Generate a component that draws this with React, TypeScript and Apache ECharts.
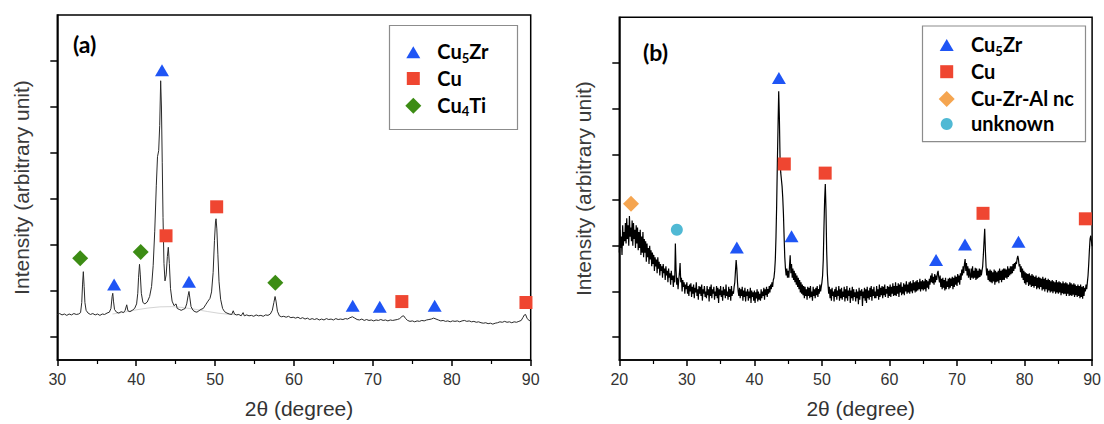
import React, { useEffect, useRef } from "react";
import * as echarts from "echarts";

// ---------- data: panel (a) ----------
const yTickValues = [0, 1, 2, 3, 4, 5, 6];

const aCurve: [number, number][] = [
  [30.0, 0.49], [30.3, 0.51], [30.6, 0.48], [30.9, 0.5], [31.2, 0.47], [31.5, 0.5], [31.8, 0.48], [32.1, 0.51],
  [32.4, 0.49], [32.7, 0.5], [32.95, 0.53], [33.1, 0.75], [33.2, 1.15], [33.3, 1.42], [33.4, 1.1], [33.5, 0.75],
  [33.65, 0.58], [33.9, 0.52], [34.2, 0.49], [34.5, 0.51], [34.8, 0.48], [35.1, 0.5], [35.4, 0.47], [35.7, 0.5],
  [36.0, 0.49], [36.3, 0.52], [36.6, 0.54], [36.8, 0.62], [36.95, 0.88], [37.03, 0.95], [37.12, 0.78], [37.25, 0.6],
  [37.5, 0.54], [37.8, 0.52], [38.1, 0.55], [38.4, 0.53], [38.6, 0.58], [38.8, 0.7], [38.95, 0.57], [39.2, 0.55],
  [39.5, 0.58], [39.8, 0.62], [40.05, 0.72], [40.2, 0.95], [40.3, 1.3], [40.42, 1.58], [40.52, 1.35], [40.65, 0.95],
  [40.85, 0.75], [41.1, 0.72], [41.4, 0.76], [41.7, 0.88], [41.95, 1.1], [42.15, 1.55], [42.35, 2.3], [42.55, 3.3],
  [42.7, 3.92], [42.85, 4.05], [42.98, 4.6], [43.1, 5.57], [43.2, 5.0], [43.3, 3.8], [43.4, 2.6], [43.52, 1.6],
  [43.65, 1.22], [43.8, 1.35], [43.95, 1.75], [44.07, 1.95], [44.2, 1.6], [44.35, 1.05], [44.55, 0.78], [44.8, 0.68],
  [45.05, 0.72], [45.2, 0.62], [45.45, 0.6], [45.7, 0.58], [45.95, 0.6], [46.2, 0.62], [46.4, 0.72], [46.58, 0.9],
  [46.69, 0.99], [46.8, 0.85], [46.95, 0.66], [47.2, 0.58], [47.45, 0.55], [47.7, 0.54], [47.95, 0.57], [48.2, 0.6],
  [48.5, 0.62], [48.8, 0.7], [49.1, 0.78], [49.35, 0.84], [49.55, 0.98], [49.75, 1.4], [49.92, 2.1], [50.05, 2.5],
  [50.12, 2.57], [50.22, 2.35], [50.35, 1.8], [50.5, 1.2], [50.7, 0.82], [50.95, 0.62], [51.2, 0.55], [51.5, 0.52],
  [51.8, 0.5], [52.1, 0.49], [52.3, 0.57], [52.45, 0.5], [52.7, 0.48], [53.0, 0.49], [53.3, 0.46], [53.55, 0.53],
  [53.7, 0.46], [54.0, 0.48], [54.3, 0.46], [54.6, 0.47], [54.9, 0.45], [55.2, 0.48], [55.5, 0.46], [55.8, 0.47],
  [56.1, 0.45], [56.4, 0.48], [56.7, 0.47], [57.0, 0.5], [57.25, 0.58], [57.45, 0.75], [57.6, 0.88], [57.72, 0.78],
  [57.9, 0.56], [58.15, 0.46], [58.4, 0.44], [58.7, 0.45], [59.0, 0.43], [59.3, 0.45], [59.6, 0.42], [59.9, 0.43],
  [60.2, 0.41], [60.5, 0.43], [60.8, 0.4], [61.1, 0.42], [61.4, 0.39], [61.7, 0.41], [62.0, 0.38], [62.3, 0.4],
  [62.6, 0.38], [62.9, 0.4], [63.2, 0.37], [63.5, 0.39], [63.8, 0.37], [64.1, 0.4], [64.4, 0.38], [64.7, 0.39],
  [65.0, 0.37], [65.3, 0.4], [65.6, 0.38], [65.9, 0.39], [66.2, 0.38], [66.5, 0.4], [66.8, 0.39], [67.1, 0.42],
  [67.4, 0.44], [67.7, 0.41], [68.0, 0.38], [68.3, 0.37], [68.6, 0.39], [68.9, 0.36], [69.2, 0.38], [69.5, 0.36],
  [69.8, 0.37], [70.1, 0.35], [70.4, 0.37], [70.7, 0.36], [71.0, 0.38], [71.3, 0.36], [71.6, 0.37], [71.9, 0.35],
  [72.2, 0.37], [72.5, 0.36], [72.8, 0.37], [73.1, 0.38], [73.4, 0.4], [73.7, 0.45], [73.9, 0.46], [74.15, 0.4],
  [74.4, 0.36], [74.7, 0.34], [75.0, 0.35], [75.3, 0.33], [75.6, 0.35], [75.9, 0.34], [76.2, 0.36], [76.5, 0.35],
  [76.8, 0.37], [77.1, 0.38], [77.4, 0.39], [77.7, 0.41], [78.0, 0.39], [78.3, 0.37], [78.6, 0.35], [78.9, 0.36],
  [79.2, 0.34], [79.5, 0.35], [79.8, 0.33], [80.1, 0.35], [80.4, 0.34], [80.7, 0.35], [81.0, 0.33], [81.3, 0.35],
  [81.6, 0.36], [81.9, 0.34], [82.2, 0.35], [82.5, 0.33], [82.8, 0.34], [83.1, 0.32], [83.4, 0.33], [83.7, 0.31],
  [84.0, 0.3], [84.3, 0.31], [84.6, 0.29], [84.9, 0.3], [85.2, 0.28], [85.5, 0.3], [85.8, 0.31], [86.1, 0.33],
  [86.4, 0.32], [86.7, 0.34], [87.0, 0.32], [87.3, 0.33], [87.6, 0.31], [87.9, 0.33], [88.2, 0.32], [88.5, 0.34],
  [88.8, 0.36], [89.0, 0.42], [89.2, 0.48], [89.35, 0.49], [89.55, 0.4], [89.8, 0.36], [90.0, 0.35],
];

const aBackground: [number, number][] = [
  [37, 0.5], [38.5, 0.54], [40, 0.59], [41.5, 0.63], [43, 0.655], [44.5, 0.66], [46, 0.64],
  [47.5, 0.6], [49, 0.555], [50.5, 0.515], [52, 0.49], [53, 0.48],
];

const aCu5Zr: [number, number][] = [[43.27, 5.8], [37.2, 1.14], [46.69, 1.2], [67.44, 0.68], [70.87, 0.66], [77.83, 0.68]];
const aCu: [number, number][] = [[43.78, 2.2], [50.2, 2.83], [73.67, 0.77], [89.4, 0.75]];
const aCu4Ti: [number, number][] = [[32.9, 1.71], [40.57, 1.85], [57.63, 1.18]];

// ---------- data: panel (b) ----------
// intensity read on the scan grid: 2θ from 20.0 to 90.0 in steps of 0.1 (one row = 1°)
const bStart = 20;
const bStep = 0.1;
const bIntensity: number[] = [
  1.85, 2.35, 1.95, 2.2, 1.8, 2.45, 2.0, 2.3, 2.1, 2.5, // 20
  2.05, 2.6, 2.15, 2.45, 2.0, 2.65, 2.2, 2.4, 2.1, 2.55, // 21
  2.0, 2.5, 2.15, 2.35, 1.95, 2.45, 2.05, 2.4, 1.9, 2.3, // 22
  1.95, 2.35, 1.8, 2.2, 1.85, 2.3, 1.75, 2.15, 1.85, 2.1, // 23
  1.65, 2.05, 1.75, 1.95, 1.6, 2.0, 1.7, 1.9, 1.55, 1.85, // 24
  1.6, 1.8, 1.45, 1.75, 1.55, 1.7, 1.4, 1.75, 1.5, 1.65, // 25
  1.35, 1.6, 1.45, 1.55, 1.3, 1.6, 1.4, 1.5, 1.25, 1.55, // 26
  1.35, 1.45, 1.2, 1.5, 1.3, 1.4, 1.15, 1.45, 1.25, 1.35, // 27
  1.1, 1.35, 1.2, 2.05, 1.5, 1.15, 1.3, 1.05, 1.25, 1.4, // 28
  1.62, 1.2, 1.3, 1.0, 1.25, 1.1, 1.2, 0.95, 1.15, 1.05, // 29
  1.2, 0.95, 1.12, 0.9, 1.15, 1.0, 1.18, 0.88, 1.1, 0.95, // 30
  1.15, 0.85, 1.08, 0.98, 1.2, 0.9, 1.05, 0.82, 1.12, 0.95, // 31
  1.1, 0.9, 1.15, 0.8, 1.05, 0.95, 1.12, 0.88, 1.0, 0.85, // 32
  1.12, 0.92, 1.05, 0.78, 1.1, 0.9, 1.15, 0.85, 1.05, 0.95, // 33
  1.1, 0.82, 1.0, 0.9, 1.12, 0.85, 1.08, 0.75, 1.05, 0.92, // 34
  1.12, 0.88, 1.02, 0.8, 1.1, 0.92, 1.05, 0.85, 1.15, 0.9, // 35
  1.0, 0.82, 1.1, 0.88, 1.05, 0.8, 1.12, 0.9, 1.0, 0.95, // 36
  1.1, 1.2, 1.45, 1.69, 1.5, 1.2, 1.0, 0.9, 1.08, 0.85, // 37
  1.05, 0.9, 1.1, 0.8, 1.02, 0.88, 1.08, 0.78, 1.0, 0.9, // 38
  1.05, 0.8, 1.0, 0.85, 1.08, 0.75, 1.02, 0.88, 0.98, 0.8, // 39
  1.02, 0.75, 0.98, 0.85, 1.05, 0.78, 1.0, 0.82, 0.95, 0.8, // 40
  1.05, 0.85, 1.0, 0.9, 1.08, 0.82, 1.05, 0.92, 1.1, 0.88, // 41
  1.05, 0.95, 1.12, 0.98, 1.15, 1.05, 1.2, 1.1, 1.25, 1.3, // 42
  1.45, 1.7, 2.2, 2.9, 3.8, 4.6, 5.38, 4.8, 3.9, 3.6, // 43
  3.45, 3.3, 3.05, 2.7, 2.2, 1.75, 1.5, 1.35, 1.5, 1.3, // 44
  1.45, 1.3, 1.55, 1.79, 1.4, 1.6, 1.3, 1.5, 1.25, 1.45, // 45
  1.2, 1.4, 1.15, 1.35, 1.1, 1.3, 1.05, 1.25, 0.98, 1.2, // 46
  0.95, 1.15, 0.92, 1.12, 0.85, 1.1, 0.9, 1.05, 0.82, 1.1, // 47
  0.9, 1.08, 0.85, 1.12, 0.88, 1.0, 0.8, 1.1, 0.9, 1.05, // 48
  0.85, 1.08, 0.92, 1.12, 0.88, 1.05, 0.95, 1.15, 1.0, 1.1, // 49
  1.2, 1.35, 1.7, 2.4, 3.0, 3.35, 2.8, 1.9, 1.4, 1.15, // 50
  0.95, 1.1, 0.85, 1.05, 0.8, 1.08, 0.9, 1.0, 0.78, 1.05, // 51
  0.88, 1.1, 0.82, 1.02, 0.9, 1.12, 0.8, 1.05, 0.85, 1.08, // 52
  0.82, 1.0, 0.88, 1.1, 0.78, 1.05, 0.85, 1.12, 0.8, 1.02, // 53
  0.9, 1.08, 0.75, 1.02, 0.85, 1.1, 0.8, 1.05, 0.88, 0.98, // 54
  0.78, 1.05, 0.85, 1.0, 0.72, 1.08, 0.82, 1.02, 0.9, 1.05, // 55
  0.68, 1.0, 0.85, 1.08, 0.8, 1.05, 0.75, 1.1, 0.85, 1.02, // 56
  0.82, 1.08, 0.88, 1.12, 0.8, 1.05, 0.9, 1.1, 0.85, 1.0, // 57
  0.85, 1.12, 0.9, 1.05, 0.82, 1.15, 0.88, 1.08, 0.92, 1.12, // 58
  0.85, 1.1, 0.92, 1.15, 0.88, 1.05, 0.95, 1.12, 0.86, 1.1, // 59
  0.9, 1.15, 0.88, 1.1, 0.95, 1.18, 0.9, 1.12, 0.92, 1.2, // 60
  0.9, 1.12, 0.95, 1.18, 0.88, 1.15, 0.98, 1.2, 0.92, 1.1, // 61
  0.95, 1.18, 0.92, 1.15, 1.0, 1.22, 0.95, 1.15, 0.98, 1.2, // 62
  0.95, 1.22, 1.0, 1.18, 0.96, 1.25, 1.02, 1.2, 0.98, 1.22, // 63
  1.0, 1.25, 1.02, 1.2, 1.05, 1.28, 1.0, 1.22, 1.05, 1.25, // 64
  1.02, 1.22, 1.05, 1.28, 1.0, 1.25, 1.08, 1.22, 1.05, 1.28, // 65
  1.15, 1.35, 1.2, 1.4, 1.18, 1.32, 1.15, 1.38, 1.2, 1.35, // 66
  1.25, 1.4, 1.45, 1.3, 1.2, 1.35, 1.1, 1.28, 1.05, 1.3, // 67
  1.08, 1.25, 1.02, 1.3, 1.05, 1.22, 1.1, 1.28, 1.05, 1.3, // 68
  1.08, 1.28, 1.12, 1.32, 1.05, 1.3, 1.1, 1.35, 1.15, 1.32, // 69
  1.12, 1.38, 1.2, 1.35, 1.15, 1.4, 1.25, 1.48, 1.35, 1.55, // 70
  1.4, 1.6, 1.71, 1.45, 1.62, 1.35, 1.55, 1.3, 1.5, 1.35, // 71
  1.25, 1.5, 1.3, 1.55, 1.28, 1.45, 1.3, 1.52, 1.25, 1.5, // 72
  1.28, 1.45, 1.3, 1.5, 1.32, 1.48, 1.35, 1.45, 1.55, 1.8, // 73
  2.1, 2.37, 1.9, 1.55, 1.35, 1.5, 1.25, 1.45, 1.22, 1.48, // 74
  1.2, 1.45, 1.18, 1.42, 1.22, 1.48, 1.15, 1.45, 1.2, 1.42, // 75
  1.22, 1.45, 1.18, 1.5, 1.25, 1.45, 1.2, 1.48, 1.25, 1.5, // 76
  1.25, 1.5, 1.3, 1.48, 1.28, 1.55, 1.32, 1.5, 1.35, 1.55, // 77
  1.38, 1.55, 1.4, 1.6, 1.45, 1.62, 1.5, 1.65, 1.6, 1.72, // 78
  1.78, 1.7, 1.55, 1.6, 1.42, 1.55, 1.3, 1.5, 1.25, 1.45, // 79
  1.18, 1.42, 1.15, 1.4, 1.2, 1.38, 1.12, 1.4, 1.15, 1.35, // 80
  1.1, 1.38, 1.12, 1.35, 1.08, 1.32, 1.12, 1.35, 1.05, 1.3, // 81
  1.08, 1.32, 1.05, 1.3, 1.1, 1.28, 1.02, 1.32, 1.05, 1.28, // 82
  1.0, 1.3, 1.05, 1.25, 0.98, 1.28, 1.02, 1.25, 0.98, 1.22, // 83
  1.0, 1.25, 0.96, 1.22, 1.0, 1.2, 0.95, 1.25, 0.98, 1.2, // 84
  0.95, 1.22, 0.98, 1.2, 0.92, 1.18, 0.96, 1.22, 0.94, 1.18, // 85
  0.95, 1.2, 0.9, 1.18, 0.95, 1.15, 0.9, 1.2, 0.92, 1.18, // 86
  0.9, 1.15, 0.93, 1.18, 0.88, 1.15, 0.92, 1.12, 0.88, 1.15, // 87
  0.9, 1.12, 0.85, 1.15, 0.88, 1.1, 0.84, 1.12, 0.9, 1.08, // 88
  1.0, 1.15, 1.05, 1.2, 1.35, 1.6, 1.9, 2.15, 2.22, 2.1, // 89
  1.99, // 90
];

const bCu5Zr: [number, number][] = [[43.63, 5.67], [37.4, 1.96], [45.5, 2.21], [66.9, 1.69], [71.18, 2.03], [79.1, 2.09]];
const bCu: [number, number][] = [[44.43, 3.79], [50.48, 3.59], [73.85, 2.71], [89.0, 2.59]];
const bCuZrAl: [number, number][] = [[21.73, 2.92]];
const bUnknown: [number, number][] = [[28.52, 2.35]];

// legend entries: phase name and how it is typeset
const legendA = ["Cu5Zr", "Cu", "Cu4Ti"];
const legendB = ["Cu5Zr", "Cu", "Cu-Zr-Al nc", "unknown"];

// ---------- styles ----------
const BLUE = "#1f55f5";
const RED = "#ef4631";
const GREEN = "#3c8c14";
const ORANGE = "#f5a550";
const CYAN = "#50b9d4";
const SANS = "Liberation Sans";
const BOLD = "Lato";

const MARK: Record<string, { symbol: string; color: string }> = {
  "Cu5Zr": { symbol: "triangle", color: BLUE },
  "Cu": { symbol: "square", color: RED },
  "Cu4Ti": { symbol: "diamond", color: GREEN },
  "Cu-Zr-Al nc": { symbol: "diamond", color: ORANGE },
  "unknown": { symbol: "circle", color: CYAN },
};

function richLabel(name: string): string {
  if (name === "Cu5Zr") return "{b|Cu}{s|5}{b|Zr}";
  if (name === "Cu4Ti") return "{b|Cu}{s|4}{b|Ti}";
  return "{b|" + name + "}";
}

const legendRich = {
  b: { fontSize: 20, fontWeight: "bold", fontFamily: BOLD, color: "#000", lineHeight: 26 },
  s: { fontSize: 13, fontWeight: "bold", fontFamily: BOLD, color: "#000", lineHeight: 4, verticalAlign: "bottom" },
};

function legendIcon(kind: string, cx: number, cy: number, color: string): any {
  if (kind === "triangle") {
    return { type: "polygon", shape: { points: [[cx, cy - 6], [cx + 7, cy + 6], [cx - 7, cy + 6]] }, style: { fill: color }, silent: true };
  }
  if (kind === "square") {
    return { type: "rect", shape: { x: cx - 6.5, y: cy - 6.5, width: 13, height: 13 }, style: { fill: color }, silent: true };
  }
  if (kind === "diamond") {
    return { type: "polygon", shape: { points: [[cx, cy - 8], [cx + 8, cy], [cx, cy + 8], [cx - 8, cy]] }, style: { fill: color }, silent: true };
  }
  return { type: "circle", shape: { cx, cy, r: 6 }, style: { fill: color }, silent: true };
}

function legendGraphics(names: string[], iconX: number, textX: number, rows: number[]): any[] {
  const out: any[] = [];
  names.forEach((n, i) => {
    const m = MARK[n];
    out.push(legendIcon(m.symbol, iconX, rows[i], m.color));
    out.push({
      type: "text", x: textX, y: rows[i] - 1, silent: true,
      style: { text: richLabel(n), rich: legendRich, align: "left", verticalAlign: "middle" },
    });
  });
  return out;
}

function xAxisFor(gridIndex: number, min: number) {
  return {
    type: "value",
    gridIndex,
    min,
    max: 90,
    interval: 10,
    name: "2θ (degree)",
    nameLocation: "middle",
    nameGap: 38,
    nameTextStyle: { fontFamily: SANS, fontSize: 21, color: "#333", padding: [0, 0, 0, 10] },
    axisLine: { onZero: false, lineStyle: { color: "#000", width: 1.5 } },
    axisTick: { show: true, inside: false, length: 6, lineStyle: { color: "#000", width: 1.5 } },
    minorTick: { show: true, splitNumber: 2, length: 4, lineStyle: { color: "#000", width: 1.2 } },
    axisLabel: { margin: 11, fontSize: 16, color: "#333", fontFamily: SANS },
    splitLine: { show: false },
    minorSplitLine: { show: false },
  };
}

function yAxisFor(gridIndex: number) {
  return {
    type: "value",
    gridIndex,
    min: -0.5,
    max: 7,
    name: "Intensity (arbitrary unit)",
    nameLocation: "middle",
    nameGap: 25,
    nameRotate: 90,
    nameTextStyle: { fontFamily: SANS, fontSize: 21, color: "#3a3a3a" },
    axisLine: { onZero: false, lineStyle: { color: "#000", width: 1.5 } },
    axisTick: { show: true, inside: false, length: 7, customValues: yTickValues, lineStyle: { color: "#000", width: 1.5 } },
    axisLabel: { show: false },
    splitLine: { show: false },
  };
}

function scatter(name: string, data: [number, number][], idx: number, symbol: string, size: any, color: string) {
  return {
    type: "scatter",
    name,
    data,
    xAxisIndex: idx,
    yAxisIndex: idx,
    symbol,
    symbolSize: size,
    itemStyle: { color, opacity: 1 },
    clip: false,
    z: 3,
    silent: true,
  };
}

export default function App() {
  const ref = useRef<HTMLDivElement>(null);
  useEffect(() => {
    document.body.style.margin = "0";
    if (!ref.current) return;
    const chart = echarts.init(ref.current, undefined, { renderer: "svg" });
    const bCurve = bIntensity.map((v, i) => [Math.round((bStart + i * bStep) * 10) / 10, v]);
    const option: any = {
      animation: false,
      backgroundColor: "#fff",
      grid: [
        { left: 57.3, top: 15, width: 473.4, height: 347.7, show: true, borderColor: "#000", borderWidth: 1.5, backgroundColor: "transparent" },
        { left: 619.3, top: 17.3, width: 474, height: 347.7, show: true, borderColor: "#000", borderWidth: 1.5, backgroundColor: "transparent" },
      ],
      xAxis: [xAxisFor(0, 30), xAxisFor(1, 20)],
      yAxis: [yAxisFor(0), yAxisFor(1)],
      graphic: [
        { type: "rect", shape: { x: 389.5, y: 25.5, width: 128, height: 104 }, style: { fill: "none", stroke: "#8c8c8c", lineWidth: 1.2 }, silent: true },
        { type: "rect", shape: { x: 922.5, y: 26, width: 163, height: 115.7 }, style: { fill: "none", stroke: "#8c8c8c", lineWidth: 1.2 }, silent: true },
        ...legendGraphics(legendA, 413.3, 437.3, [52.3, 78.5, 105.7]),
        ...legendGraphics(legendB, 946.7, 971, [45, 71.7, 99, 124]),
        { type: "text", x: 84.7, y: 44, style: { text: "(a)", fontSize: 23, fontWeight: "bold", fontFamily: BOLD, fill: "#000", align: "center", verticalAlign: "middle" } },
        { type: "text", x: 655.5, y: 51.5, style: { text: "(b)", fontSize: 23, fontWeight: "bold", fontFamily: BOLD, fill: "#000", align: "center", verticalAlign: "middle" } },
      ],
      series: [
        { type: "line", data: aBackground, xAxisIndex: 0, yAxisIndex: 0, symbol: "none", silent: true, lineStyle: { color: "#d4d4d4", width: 1 }, z: 1 },
        { type: "line", data: aCurve, xAxisIndex: 0, yAxisIndex: 0, symbol: "none", silent: true, lineStyle: { color: "#2a2a2a", width: 1 }, z: 2 },
        { type: "line", data: bCurve, xAxisIndex: 1, yAxisIndex: 1, symbol: "none", silent: true, lineStyle: { color: "#000", width: 1.2 }, z: 2 },
        scatter("Cu5Zr", aCu5Zr, 0, "triangle", [14, 12], BLUE),
        scatter("Cu", aCu, 0, "rect", 13, RED),
        scatter("Cu4Ti", aCu4Ti, 0, "diamond", 16, GREEN),
        scatter("Cu5Zr", bCu5Zr, 1, "triangle", [14, 12], BLUE),
        scatter("Cu", bCu, 1, "rect", 13, RED),
        scatter("Cu-Zr-Al nc", bCuZrAl, 1, "diamond", 16, ORANGE),
        scatter("unknown", bUnknown, 1, "circle", 12, CYAN),
      ],
    };
    chart.setOption(option);
    return () => chart.dispose();
  }, []);
  return <div ref={ref} style={{ width: 1104, height: 424 }} />;
}
